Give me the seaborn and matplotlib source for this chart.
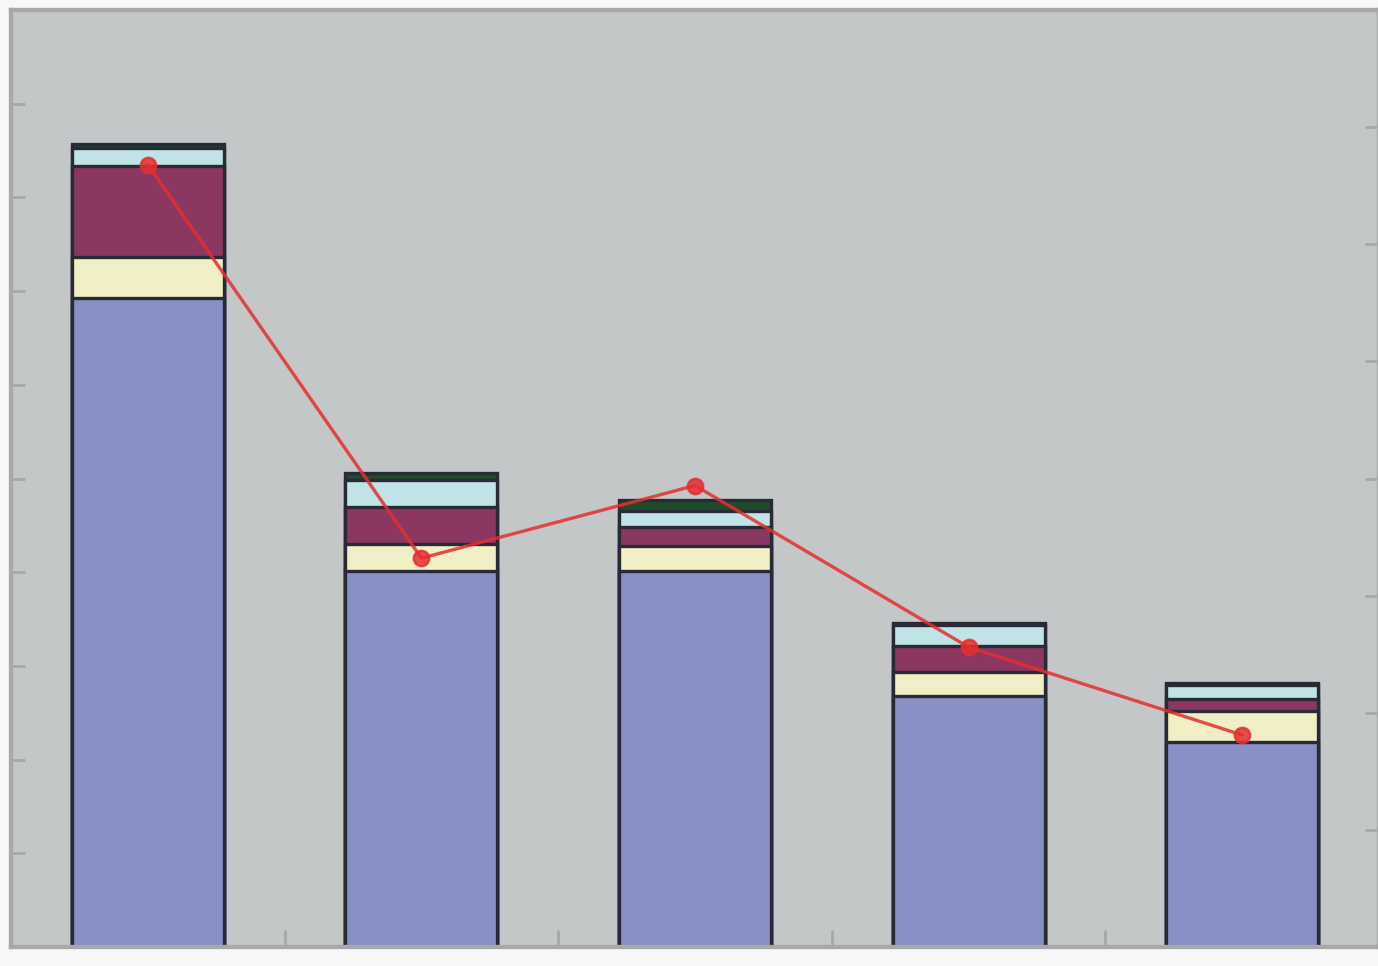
import numpy as np
import pandas as pd
import matplotlib
matplotlib.use("Agg")
import matplotlib.pyplot as plt
import seaborn as sns

# ---- data (left axis 0-10, right axis 0-8) ----
categories = ["A", "B", "C", "D", "E"]
seg_blue   = [6.93, 4.01, 4.01, 2.68, 2.19]
seg_yellow = [0.43, 0.29, 0.27, 0.25, 0.33]
seg_purple = [0.97, 0.40, 0.20, 0.28, 0.13]
seg_cyan   = [0.20, 0.28, 0.17, 0.23, 0.15]
seg_green  = [0.04, 0.08, 0.12, 0.02, 0.02]
line_vals  = [6.68, 3.32, 3.94, 2.56, 1.81]

left_ticks = [1, 2, 3, 4, 5, 6, 7, 8, 9]
right_ticks = [1, 2, 3, 4, 5, 6, 7]

sns.set_theme(style="white")

colors = ["#8890c4", "#f1efc6", "#8c3762", "#bfe3e6", "#1f4a2c"]
segments = [seg_blue, seg_yellow, seg_purple, seg_cyan, seg_green]

fig = plt.figure(figsize=(13.78, 9.66), dpi=100, facecolor="#f7f7f7")
ax = fig.add_axes([11 / 1378, 19 / 966, 1368 / 1378, 937 / 966])
ax.set_facecolor("#c4c7c8")

cum = np.cumsum(np.array(segments), axis=0)
# draw from the top-most cumulative down so lower segments sit on top
for i in range(len(segments) - 1, -1, -1):
    df = pd.DataFrame({"cat": categories, "val": cum[i]})
    sns.barplot(data=df, x="cat", y="val", color=colors[i], saturation=1,
                width=0.555, edgecolor="#2a2a36", linewidth=2.4, ax=ax,
                order=categories)

ax.set_xlim(-0.5, 4.5)
ax.set_ylim(0, 10)
ax.set_xlabel("")
ax.set_ylabel("")
ax.set_yticks(left_ticks)
ax.set_yticklabels([])
ax.set_xticks([0.5, 1.5, 2.5, 3.5])
ax.set_xticklabels([])
ax.tick_params(axis="y", direction="in", length=10, width=2, color="#a6a8a9", left=True)
ax.tick_params(axis="x", direction="in", length=12, width=2, color="#a6a8a9", bottom=True)
for s in ax.spines.values():
    s.set_color("#a6a8a9")
    s.set_linewidth(3)

ax2 = ax.twinx()
ldf = pd.DataFrame({"cat": categories, "val": line_vals})
sns.pointplot(data=ldf, x="cat", y="val", color="#e62e2e", markers="o",
              markersize=11, linewidth=2.4, ax=ax2, order=categories)
for ln in ax2.lines:
    ln.set_alpha(0.85)
ax2.set_xlim(-0.5, 4.5)
ax2.set_ylim(0, 8)
ax2.set_ylabel("")
ax2.set_xlabel("")
ax2.set_yticks(right_ticks)
ax2.set_yticklabels([])
ax2.set_xticks([0.5, 1.5, 2.5, 3.5])
ax2.set_xticklabels([])
ax2.tick_params(axis="y", direction="in", length=10, width=2, color="#a6a8a9", right=True)
for s in ax2.spines.values():
    s.set_color("#a6a8a9")
    s.set_linewidth(3)

fig.savefig("out.png", dpi=100, facecolor=fig.get_facecolor())
